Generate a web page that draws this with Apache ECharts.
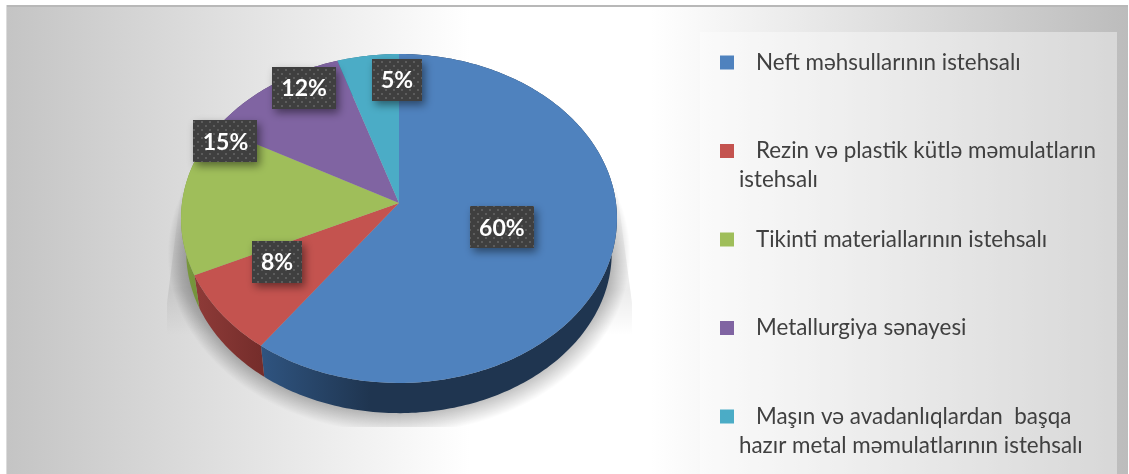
<!DOCTYPE html>
<html><head><meta charset="utf-8">
<style>html,body{margin:0;padding:0;background:#fff}#c{width:1129px;height:474px}</style>
<script src="https://cdn.jsdelivr.net/npm/echarts@6/dist/echarts.min.js"></script>
</head><body><div id="c"></div>
<script>
const categories = ["Neft məhsullarının istehsalı","Rezin və plastik kütlə məmulatların istehsalı","Tikinti materiallarının istehsalı","Metallurgiya sənayesi","Maşın və avadanlıqlardan  başqa hazır metal məmulatlarının istehsalı"];
const legendLines = [["Neft məhsullarının istehsalı",""],["Rezin və plastik kütlə məmulatların","istehsalı"],["Tikinti materiallarının istehsalı",""],["Metallurgiya sənayesi",""],["Maşın və avadanlıqlardan  başqa","hazır metal məmulatlarının istehsalı"]];
const values = [60, 8, 15, 12, 5];
const colors = ["#4f82be","#c4534f","#9fbe5a","#8064a2","#4bacc6"];
const wallStops = [["#2f5480","#1f3550"],["#8e3b38","#752d2b"],["#7a9a3e","#6d8a36"],["#5a4674","#4c3b62"],["#357c8e","#2d6a7a"]];
// label placement: fraction of radius, angle offset (deg) from slice mid angle
const labelRadius = [0.49,0.645,0.918,0.889,0.812];
const labelTurn = [-0.5,7,23.6,7.8,8.3];
const labelW = [64,50,64,64,50];

// projection of the tilted disc
const P = {ax:399, ay:203, a:217, b:163, w:0.0942, sx:0.976, dy:34.5};
function proj(u,v){const d=1+P.w*v;return [P.a*u/d, -P.b*v/d];}
function topPt(t,r){r=r==null?1:r;const p=proj(r*Math.sin(t),r*Math.cos(t));return [P.ax+p[0],P.ay+p[1]];}
function botPt(t){const p=proj(Math.sin(t),Math.cos(t));return [P.ax+p[0]*P.sx,P.ay+p[1]*P.sx+P.dy];}
const total = values.reduce((a,b)=>a+b,0);

function dots(){
  const c=document.createElement('canvas');c.width=8;c.height=8;
  const x=c.getContext('2d');x.fillStyle='#3f3f3f';x.fillRect(0,0,8,8);
  x.fillStyle='#5c5c5c';x.fillRect(1,1,2,2);x.fillRect(5,5,2,2);return c;
}
const pat=dots();

function render(idx){
  return function(params,api){
    const val=api.value(0);
    let before=0;for(let i=0;i<idx;i++)before+=values[i];
    const t0=before/total*2*Math.PI,t1=(before+val)/total*2*Math.PI;
    const n=Math.max(8,Math.round((t1-t0)*60));
    const arc=[],barc=[];
    for(let i=0;i<=n;i++){const t=t0+(t1-t0)*i/n;arc.push(topPt(t));barc.push(botPt(t));}
    const wall=arc.concat(barc.slice().reverse());
    const xs=arc.map(p=>p[0]);
    const wx0=Math.min.apply(null,xs),wx1=Math.max.apply(null,xs);
    const kids=[
      {type:'polygon',z2:1,shape:{points:wall},style:{fill:{type:'linear',global:true,x:wx0,y:0,x2:idx===0?Math.min(wx1,370):wx1,y2:0,colorStops:[{offset:0,color:wallStops[idx][0]},{offset:1,color:wallStops[idx][1]}]}}},
      {type:'polygon',z2:5,shape:{points:[[P.ax,P.ay]].concat(arc)},style:{fill:colors[idx]}}
    ];
    const mid=(t0+t1)/2+labelTurn[idx]*Math.PI/180;
    const c=topPt(mid,labelRadius[idx]);
    const w=labelW[idx],h=42;
    kids.push({type:'rect',z2:10,shape:{x:Math.round(c[0]-w/2),y:Math.round(c[1]-h/2),width:w,height:h},
      style:{fill:{image:pat,repeat:'repeat'},shadowColor:'rgba(0,0,0,0.45)',shadowBlur:8,shadowOffsetX:3,shadowOffsetY:4}});
    kids.push({type:'text',z2:11,style:{x:c[0],y:c[1]+1,text:val+'%',fill:'#fff',font:'bold 23px Lato',align:'center',verticalAlign:'middle'}});
    return {type:'group',children:kids};
  };
}

const series = categories.map((name,i)=>({
  type:'custom',name:name,coordinateSystem:'none',silent:true,z:3,
  data:[[values[i]]],itemStyle:{color:colors[i]},renderItem:render(i)
}));

const bg = ()=>({type:'linear',global:true,x:7,y:0,x2:1128,y2:0,colorStops:[{offset:0,color:'#c4c4c4'},{offset:.413,color:'#fff'},{offset:.574,color:'#fff'},{offset:1,color:'#bcbcbc'}]});

// soft ground shadow built from nested translucent ellipses
const halo = [];
for(let k=0;k<20;k++){
  halo.push({type:'ellipse',z:1.2,shape:{cx:399,cy:254,rx:212+k,ry:160+k},style:{fill:'rgba(0,0,0,0.013)'}});
}

const chart=echarts.init(document.getElementById('c'),null,{renderer:'canvas'});
chart.setOption({
  animation:false,
  backgroundColor:'#fff',
  legend:{
    orient:'vertical',left:720,top:19,padding:0,itemWidth:14,itemHeight:14,itemGap:1.5,icon:'rect',selectedMode:false,
    itemStyle:{borderWidth:0},
    data:categories,
    formatter:function(name){
      const l=legendLines[categories.indexOf(name)];
      return '{e|}\n{a|'+l[0]+'}\n{b|'+(l[1]||' ')+'}';
    },
    textStyle:{rich:{
      e:{height:29,lineHeight:29,fontSize:22},
      a:{height:29,lineHeight:29,fontSize:22.4,fontFamily:'Lato',color:'#404040',padding:[0,0,0,17]},
      b:{height:29,lineHeight:29,fontSize:22.4,fontFamily:'Lato',color:'#404040'}
    }}
  },
  graphic:{elements:[
    {type:'rect',z:0,shape:{x:7,y:5,width:1121,height:469},style:{fill:bg()}},
    {type:'polygon',z:1,shape:{points:[[183,175],[615,175],[632,303],[632,335],[167,335],[167,303]]},style:{fill:{type:'linear',global:true,x:0,y:175,x2:0,y2:335,colorStops:[{offset:0,color:'rgba(0,0,0,0)'},{offset:.72,color:'rgba(0,0,0,0.08)'},{offset:1,color:'rgba(0,0,0,0)'}]}}}
  ].concat(halo).concat([
    {type:'rect',z:1.5,shape:{x:7,y:427,width:693,height:47},style:{fill:bg()}},
    {type:'rect',z:2,shape:{x:6,y:5,width:1122,height:2},style:{fill:'#b8b8b8'}},
    {type:'rect',z:2,shape:{x:6,y:5,width:1,height:469},style:{fill:'#dcdcdc'}},
    {type:'rect',z:2,shape:{x:700,y:32,width:417,height:442},style:{fill:'rgba(255,255,255,0.4)'}}
  ])},
  series:series
});
</script></body></html>
